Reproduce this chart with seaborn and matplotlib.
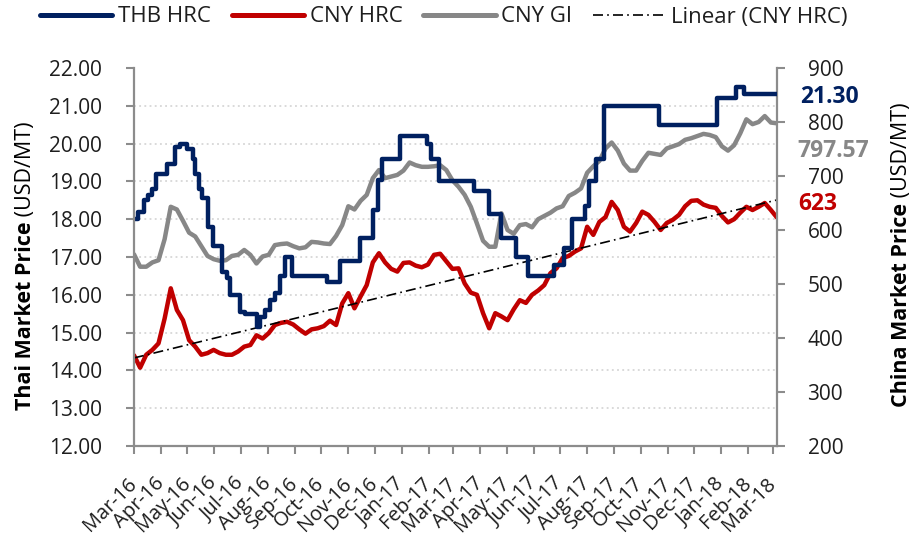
import numpy as np
import pandas as pd
import matplotlib
matplotlib.use("Agg")
import matplotlib.pyplot as plt
import matplotlib.dates as mdates
import seaborn as sns

# Weekly CNY prices (USD/MT), one value per week starting 2016-03-01
cny_hrc = [368, 345, 369, 378, 390, 436, 492, 452, 433, 396, 384, 369, 372, 378, 372, 369,
           369, 375, 384, 387, 405, 399, 409, 424, 428, 430, 425, 416, 408, 416, 418, 422,
           432, 424, 464, 483, 455, 477, 498, 540, 557, 540, 528, 523, 539, 540, 534, 531,
           536, 554, 556, 542, 528, 529, 501, 484, 480, 446, 418, 446, 440, 433, 453, 470,
           465, 480, 488, 498, 520, 529, 548, 552, 560, 566, 606, 591, 615, 624, 652, 637,
           606, 597, 613, 634, 628, 615, 600, 613, 619, 628, 644, 654, 655, 647, 643, 641,
           626, 614, 620, 632, 643, 637, 643, 650, 637, 623]
cny_gi = [555, 532, 532, 540, 544, 583, 643, 638, 617, 595, 588, 570, 552, 546, 543, 544,
          552, 554, 563, 554, 538, 551, 554, 572, 574, 575, 570, 566, 568, 578, 577, 575,
          574, 589, 609, 644, 638, 654, 665, 696, 711, 696, 699, 702, 710, 725, 720, 717,
          717, 718, 720, 711, 692, 680, 665, 643, 612, 580, 569, 569, 631, 600, 593, 609,
          611, 605, 620, 626, 632, 640, 644, 663, 669, 677, 706, 718, 728, 751, 762, 747,
          723, 710, 710, 728, 743, 741, 739, 751, 755, 759, 767, 770, 774, 778, 776, 772,
          755, 747, 757, 779, 805, 796, 800, 811, 799, 797.57]

# Thai HRC price changes (step series)
thb_dates = ["2016-03-01", "2016-03-06", "2016-03-12", "2016-03-17", "2016-03-22", "2016-03-26",
             "2016-04-08", "2016-04-17", "2016-04-23", "2016-05-01", "2016-05-07", "2016-05-10",
             "2016-05-14", "2016-05-18", "2016-05-25", "2016-05-30", "2016-06-10", "2016-06-15",
             "2016-06-19", "2016-06-30", "2016-07-06", "2016-07-20", "2016-07-23", "2016-07-29",
             "2016-08-03", "2016-08-09", "2016-08-15", "2016-08-21", "2016-08-29", "2016-10-08",
             "2016-10-22", "2016-11-14", "2016-11-29", "2016-12-05", "2016-12-10", "2016-12-30",
             "2017-01-30", "2017-02-04", "2017-02-13", "2017-03-25", "2017-04-11", "2017-04-25",
             "2017-05-12", "2017-05-25", "2017-06-24", "2017-07-06", "2017-07-15", "2017-07-29",
             "2017-08-03", "2017-08-11", "2017-08-20", "2017-10-22", "2017-12-27", "2018-01-18",
             "2018-01-27", "2018-03-06"]
thb_hrc = [18.0, 18.2, 18.5, 18.65, 18.8, 19.2, 19.45, 19.9, 20.0, 19.85, 19.6, 19.2,
           18.8, 18.55, 17.8, 17.3, 16.6, 16.45, 16.0, 15.55, 15.5, 15.15, 15.4, 15.6,
           15.85, 16.05, 16.5, 17.0, 16.5, 16.35, 16.9, 17.5, 18.25, 19.05, 19.6, 20.2,
           20.0, 19.6, 19.0, 18.75, 18.15, 17.5, 17.0, 16.5, 16.8, 17.25, 18.0, 18.35,
           19.0, 19.6, 21.0, 20.5, 21.2, 21.5, 21.3, 21.3]

series_labels = ["THB HRC", "CNY HRC", "CNY GI", "Linear (CNY HRC)"]
left_label = ("Thai Market Price", " (USD/MT)")
right_label = ("China Market Price", " (USD/MT)")

NAVY = "#002060"
RED = "#C00000"
GREY = "#878787"
AXIS = "#8c8c8c"
TEXT = "#1e1e1e"

sns.set_theme(style="white")
plt.rcParams["font.family"] = ["Open Sans", "DejaVu Sans"]

W, H = 912, 535
fig = plt.figure(figsize=(W / 100, H / 100), dpi=100)
ax = fig.add_axes([134 / W, 1 - 446 / H, (777 - 134) / W, (446 - 68) / H])
ax2 = ax.twinx()
ax.set_zorder(2)
ax2.set_zorder(1)
ax.patch.set_visible(False)

weeks = pd.date_range("2016-03-01", periods=len(cny_hrc), freq="7D")
thb_t = pd.to_datetime(thb_dates)

# linear trend of CNY HRC
xnum = mdates.date2num(weeks)
coef = np.polyfit(xnum, cny_hrc, 1)
trend = np.polyval(coef, xnum)

lw = 3.2
sns.lineplot(x=weeks, y=cny_gi, ax=ax2, color=GREY, linewidth=lw)
l_gi = ax2.get_lines()[-1]
sns.lineplot(x=weeks, y=cny_hrc, ax=ax2, color=RED, linewidth=lw)
l_cny = ax2.get_lines()[-1]
sns.lineplot(x=weeks, y=trend, ax=ax2, color="black", linewidth=1.2)
l_tr = ax2.get_lines()[-1]
l_tr.set_linestyle((0, (6, 2.5, 1, 2.5)))
sns.lineplot(x=thb_t, y=thb_hrc, ax=ax, color=NAVY, linewidth=lw, drawstyle="steps-post")
l_thb = ax.get_lines()[-1]
for l in (l_gi, l_cny, l_thb):
    l.set_solid_capstyle("round")
    l.set_solid_joinstyle("round")

ax.set_ylim(12, 22)
ax2.set_ylim(200, 900)
ax.set_xlim(weeks[0], weeks[-1])
ax.set_yticks(np.arange(12, 22.01, 1))
ax.yaxis.set_major_formatter(matplotlib.ticker.FormatStrFormatter("%.2f"))
ax2.set_yticks(np.arange(200, 901, 100))

# dotted grid at the left-axis ticks, drawn underneath every line
grid_vals = 200 + (np.arange(13, 23) - 12) * 70
ax2.set_yticks(grid_vals, minor=True)
ax2.yaxis.grid(True, which="minor", color="#cfcfcf", linestyle=(0, (1.2, 2.2)), linewidth=1.1)
ax2.tick_params(axis="y", which="minor", length=0)

ax.xaxis.set_major_locator(mdates.MonthLocator(bymonthday=1))
ax.xaxis.set_major_formatter(mdates.DateFormatter("%b-%y"))

for a in (ax, ax2):
    for s in a.spines.values():
        s.set_visible(False)
for s in (ax.spines["left"], ax.spines["bottom"], ax2.spines["right"]):
    s.set_visible(True)
    s.set_color(AXIS)
    s.set_linewidth(1.6)

ax.tick_params(axis="y", direction="out", length=6, width=1.5, color=AXIS,
               labelsize=15, labelcolor=TEXT, pad=17, left=True)
ax2.tick_params(axis="y", which="major", direction="out", length=6, width=1.5, color=AXIS,
                labelsize=15, labelcolor=TEXT, pad=16, right=True)
ax.tick_params(axis="x", direction="out", length=6, width=1.5, color=AXIS,
               labelsize=14.5, labelcolor=TEXT, pad=19, bottom=True)
for lbl in ax.get_xticklabels():
    lbl.set_rotation(45)
    lbl.set_ha("right")
    lbl.set_va("center")
    lbl.set_rotation_mode("anchor")
ax.set_xlabel("")
ax.set_ylabel("")
ax2.set_ylabel("")

# end-of-series value labels
end_fmt = [(ax, thb_hrc[-1], f"{thb_hrc[-1]:.2f}", NAVY, (16.5, -2)),
           (ax2, cny_gi[-1], f"{cny_gi[-1]:.2f}", GREY, (14.5, -20)),
           (ax2, cny_hrc[-1], f"{cny_hrc[-1]:.0f}", RED, (15, 10))]
for a, v, s, c, off in end_fmt:
    a.annotate(s, xy=(1, v), xycoords=("axes fraction", "data"), xytext=off,
               textcoords="offset points", ha="left", va="center", color=c,
               fontsize=16.5, fontweight="bold")

leg = fig.legend([l_thb, l_cny, l_gi, l_tr], series_labels, loc="center left",
                 bbox_to_anchor=(40 / W, 1 - 17 / H), ncol=4, frameon=False, fontsize=16,
                 handlelength=3.25, handletextpad=0.25, columnspacing=0.95,
                 borderpad=0, borderaxespad=0)
for t in leg.get_texts():
    t.set_color(TEXT)
for h in leg.legend_handles[:3]:
    h.set_linewidth(3.6)

# axis titles: bold part followed by regular part
fig.canvas.draw()
rend = fig.canvas.get_renderer()
for (bold, normal), xb, y0 in ((left_label, 31, 410), (right_label, 907, 407)):
    t1 = fig.text(xb / W, 1 - y0 / H, bold, rotation=90, rotation_mode="anchor",
                  ha="left", va="baseline", fontsize=15.5, fontweight="bold", color="black")
    w1 = t1.get_window_extent(rend).height
    fig.text(xb / W, 1 - (y0 - w1) / H, normal, rotation=90, rotation_mode="anchor",
             ha="left", va="baseline", fontsize=15.5, color="black")

fig.savefig("out.png", dpi=100, facecolor="white")
